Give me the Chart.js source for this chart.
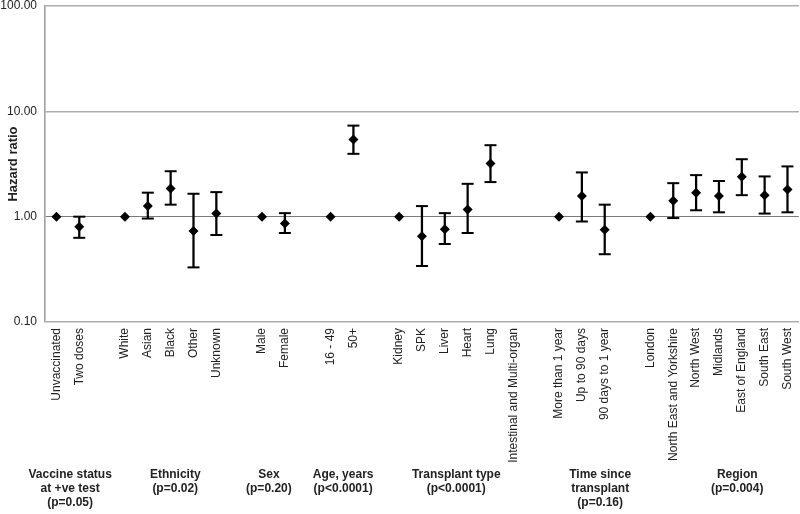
<!DOCTYPE html>
<html>
<head>
<meta charset="utf-8">
<script src="https://cdn.jsdelivr.net/npm/chart.js@4.4.1/dist/chart.umd.min.js"></script>
<style>
  html, body { margin: 0; padding: 0; background: #fff; overflow: hidden; }
  #wrap { width: 808px; height: 522px; margin-top: -8px; }
</style>
</head>
<body>
<div id="wrap"><canvas id="chart-hr"></canvas></div>
<script>
// one slot per category, empty strings are the spacer slots between groups
const categories = [
  "Unvaccinated", "Two doses", "",
  "White", "Asian", "Black", "Other", "Unknown", "",
  "Male", "Female", "",
  "16 - 49", "50+", "",
  "Kidney", "SPK", "Liver", "Heart", "Lung", "Intestinal and Multi-organ", "",
  "More than 1 year", "Up to 90 days", "90 days to 1 year", "",
  "London", "North East and Yorkshire", "North West", "Midlands", "East of England", "South East", "South West",
];

const hazardRatio = [
  1, 0.80, null,
  1, 1.26, 1.85, 0.73, 1.07, null,
  1, 0.86, null,
  1, 5.39, null,
  1, 0.65, 0.76, 1.17, 3.20, null, null,
  1, 1.57, 0.75, null,
  1, 1.42, 1.69, 1.57, 2.39, 1.60, 1.81,
];

const lowerCI = [
  null, 0.63, null,
  null, 0.96, 1.30, 0.33, 0.67, null,
  null, 0.70, null,
  null, 3.95, null,
  null, 0.34, 0.55, 0.70, 2.13, null, null,
  null, 0.90, 0.44, null,
  null, 0.97, 1.15, 1.10, 1.60, 1.07, 1.10,
];

const upperCI = [
  null, 1.00, null,
  null, 1.69, 2.70, 1.65, 1.71, null,
  null, 1.08, null,
  null, 7.32, null,
  null, 1.26, 1.08, 2.05, 4.77, null, null,
  null, 2.63, 1.30, null,
  null, 2.08, 2.48, 2.18, 3.51, 2.41, 3.00,
];

const yTicks = [0.1, 1, 10, 100];

const groupTitles = [
  ["Vaccine status", "at +ve test", "(p=0.05)"],
  ["Ethnicity", "(p=0.02)"],
  ["Sex", "(p=0.20)"],
  ["Age, years", "(p<0.0001)"],
  ["Transplant type", "(p<0.0001)"],
  ["Time since", "transplant", "(p=0.16)"],
  ["Region", "(p=0.004)"],
];
const groupSpans = [[0, 1], [3, 7], [9, 10], [12, 13], [15, 20], [22, 24], [26, 32]];

const FONT = "'Liberation Sans', Arial, Helvetica, sans-serif";
const COLORS = {
  mark: "#000000",
  text: "#222222",
  grid: "#adadad",
  refLine: "#7a7a7a",
  axis: "#a0a0a0",
};

// nudges (in slots) to sit the group captions where the original had them
const groupShift = [0.1, 0.2, -0.2, 0.05, 0, 0.8, 0.8];

const groupTitlePlugin = {
  id: "groupTitles",
  afterDraw(chart) {
    const ctx = chart.ctx;
    const x = chart.scales.x;
    const top = chart.chartArea.bottom + 153;
    ctx.save();
    ctx.font = "bold 12px " + FONT;
    ctx.fillStyle = COLORS.text;
    ctx.textAlign = "center";
    ctx.textBaseline = "middle";
    groupTitles.forEach((lines, i) => {
      const span = groupSpans[i];
      const cx = x.getPixelForValue((span[0] + span[1]) / 2 + groupShift[i]);
      lines.forEach((t, j) => ctx.fillText(t, cx, top + j * 14));
    });
    ctx.restore();
  },
};

const whiskers = categories.map((_, i) =>
  lowerCI[i] != null && upperCI[i] != null ? [lowerCI[i], upperCI[i]] : null
);

new Chart(document.getElementById("chart-hr"), {
  type: "bar",
  data: {
    labels: categories,
    datasets: [
      {
        type: "line",
        data: hazardRatio,
        showLine: false,
        pointStyle: "rectRot",
        pointRadius: 5,
        backgroundColor: COLORS.mark,
        borderColor: COLORS.mark,
        borderWidth: 0,
        order: 0,
      },
      {
        type: "line",
        data: upperCI,
        showLine: false,
        pointStyle: "line",
        pointRadius: 6,
        borderColor: COLORS.mark,
        borderWidth: 2,
        order: 1,
      },
      {
        type: "line",
        data: lowerCI,
        showLine: false,
        pointStyle: "line",
        pointRadius: 6,
        borderColor: COLORS.mark,
        borderWidth: 2,
        order: 1,
      },
      {
        type: "bar",
        data: whiskers,
        backgroundColor: COLORS.mark,
        barThickness: 1.6,
        order: 2,
      },
    ],
  },
  options: {
    responsive: true,
    maintainAspectRatio: false,
    animation: false,
    layout: { padding: { top: 0, right: 0, bottom: 0, left: 0 } },
    plugins: { legend: { display: false }, tooltip: { enabled: false } },
    scales: {
      x: {
        offset: true,
        grid: { display: false, drawTicks: false },
        border: { display: false },
        ticks: {
          autoSkip: false,
          minRotation: 90,
          maxRotation: 90,
          padding: 6,
          color: COLORS.text,
          font: { family: FONT, size: 12 },
        },
        afterFit(scale) { scale.height = 192; },
      },
      y: {
        type: "logarithmic",
        min: 0.1,
        max: 100,
        afterBuildTicks(scale) { scale.ticks = yTicks.map(v => ({ value: v })); },
        afterFit(scale) { scale.width = 45; },
        grid: {
          drawTicks: false,
          color: ctx => (ctx.tick && ctx.tick.value === 1 ? COLORS.refLine : COLORS.grid),
          lineWidth: ctx => (ctx.tick && ctx.tick.value === 1 ? 1 : 1.6),
        },
        border: { display: true, color: COLORS.axis, width: 1.6 },
        ticks: {
          padding: 8,
          color: COLORS.text,
          font: { family: FONT, size: 12, lineHeight: 1 },
          callback: v => Number(v).toFixed(2),
        },
        title: {
          display: true,
          text: "Hazard ratio",
          color: COLORS.text,
          padding: { top: 6, bottom: 0 },
          font: { family: FONT, size: 13, weight: "bold" },
        },
      },
    },
  },
  plugins: [groupTitlePlugin],
});
</script>
</body>
</html>
